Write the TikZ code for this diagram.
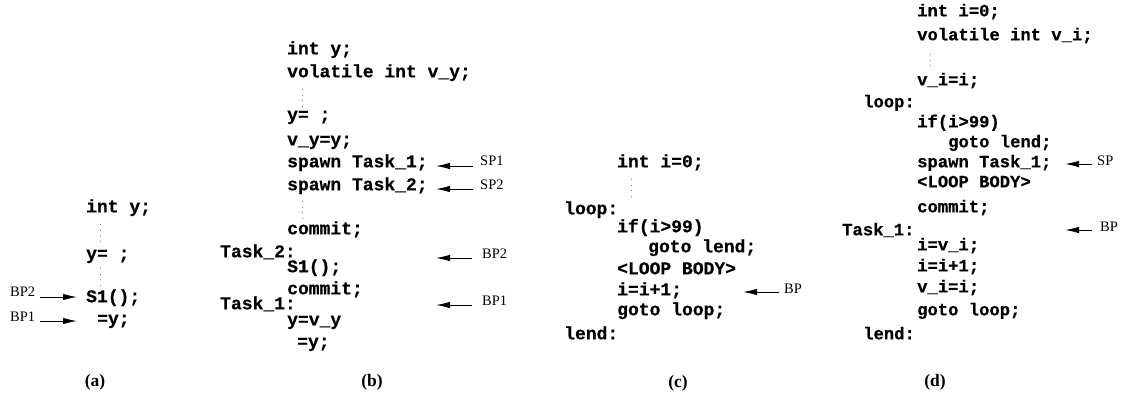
\documentclass[tikz,border=0pt]{standalone}
\usepackage{fontspec}
\setmainfont{Liberation Serif}
\newfontfamily\codefam{Liberation Mono}[BoldFont={Liberation Mono Bold},BoldFeatures={FakeBold=0.5}]
\usetikzlibrary{arrows.meta}
\newcommand{\cfa}{\fontsize{18}{22}\selectfont\codefam\bfseries}
\newcommand{\cfd}{\fontsize{17.2}{21}\selectfont\codefam\bfseries}
\begin{document}
\begin{tikzpicture}[x=1pt,y=-1pt,
  code/.style={font=\cfa, inner sep=0pt, anchor=mid west},
  coded/.style={font=\cfd, inner sep=0pt, anchor=mid west},
  lbl/.style={font=\fontsize{14.5}{16}\selectfont, inner sep=0pt, anchor=mid west},
  captxt/.style={font=\fontsize{17.5}{19}\selectfont\bfseries, inner sep=0pt},
  arr/.style={line width=1pt, -{Latex[length=14pt,width=6.5pt]}},
  vdotsline/.style={line width=0.9pt, black!50, dash pattern=on 0.9pt off 4.6pt}]
\useasboundingbox (0,0) rectangle (1130,397);

% ---------- (a)
\node[code] (a1) at (86,210) {int y;};
\node[code] (a2) at (86,257) {y= ;};
\node[code] (a3) at (86,300) {S1();};
\node[code] (a4) at (97,322) {=y;};
\draw[vdotsline] (100,224) -- (100,242);
\draw[vdotsline] (100,268) -- (100,286);
\node[lbl] (abp2) at (10,294) {BP2};
\node[lbl] (abp1) at (10,319) {BP1};
\coordinate (ta2) at (77,297);
\coordinate (ta1) at (77,321);
\draw[arr, shorten <=5pt] (ta2 -| abp2.east) -- (ta2);
\draw[arr, shorten <=5pt] (ta1 -| abp1.east) -- (ta1);
\node[captxt] (capa) at (95,382) {(a)};

% ---------- (b)
\node[code] (b1) at (287,52) {int y;};
\node[code] (b2) at (287,75) {volatile int v\_y;};
\node[code] (b3) at (287,118) {y= ;};
\node[code] (b4) at (287,143) {v\_y=y;};
\node[code] (b5) at (287,165) {spawn Task\_1;};
\node[code] (b6) at (287,188) {spawn Task\_2;};
\node[code] (b7) at (287,232) {commit;};
\node[code] (b8) at (220,255) {Task\_2:};
\node[code] (b9) at (287,270) {S1();};
\node[code] (b10) at (287,292) {commit;};
\node[code] (b11) at (220,307) {Task\_1:};
\node[code] (b12) at (287,323) {y=v\_y};
\node[code] (b13) at (297,345) {=y;};
\draw[vdotsline] (302,89) -- (302,107);
\draw[vdotsline] (302,201) -- (302,219);
\node[lbl] (bsp1) at (480,163) {SP1};
\node[lbl] (bsp2) at (480,187) {SP2};
\node[lbl] (bbp2) at (482,256) {BP2};
\node[lbl] (bbp1) at (482,303) {BP1};
\coordinate (tsp1) at (436,166);
\coordinate (tsp2) at (436,189);
\coordinate (tbp2) at (436,258);
\coordinate (tbp1) at (436,305);
\draw[arr, shorten <=7pt] (tsp1 -| bsp1.west) -- (tsp1);
\draw[arr, shorten <=7pt] (tsp2 -| bsp2.west) -- (tsp2);
\draw[arr, shorten <=10pt] (tbp2 -| bbp2.west) -- (tbp2);
\draw[arr, shorten <=10pt] (tbp1 -| bbp1.west) -- (tbp1);
\node[captxt] (capb) at (372,382) {(b)};

% ---------- (c)
\node[code] (c1) at (617,165) {int i=0;};
\node[code] (c2) at (564,212) {loop:};
\node[code] (c3) at (617,230) {if(i>99)};
\node[code] (c4) at (648,250) {goto lend;};
\node[code] (c5) at (617,272) {<LOOP BODY>};
\node[code] (c6) at (617,293) {i=i+1;};
\node[code] (c7) at (617,313) {goto loop;};
\node[code] (c8) at (564,337) {lend:};
\draw[vdotsline] (631,179) -- (631,197);
\node[lbl] (cbp) at (784,291) {BP};
\coordinate (tcbp) at (743,292);
\draw[arr, shorten <=5pt] (tcbp -| cbp.west) -- (tcbp);
\node[captxt] (capc) at (678,383) {(c)};

% ---------- (d)
\node[coded] (d1) at (917,14) {int i=0;};
\node[coded] (d2) at (917,38) {volatile int v\_i;};
\node[coded] (d3) at (917,83) {v\_i=i;};
\node[coded] (d4) at (863,105) {loop:};
\node[coded] (d5) at (917,125) {if(i>99)};
\node[coded] (d6) at (948,145) {goto lend;};
\node[coded] (d7) at (917,165) {spawn Task\_1;};
\node[coded] (d8) at (917,185) {<LOOP BODY>};
\node[coded] (d9) at (917,210) {commit;};
\node[coded] (d10) at (842,233) {Task\_1:};
\node[coded] (d11) at (917,248) {i=v\_i;};
\node[coded] (d12) at (917,269) {i=i+1;};
\node[coded] (d13) at (917,290) {v\_i=i;};
\node[coded] (d14) at (917,313) {goto loop;};
\node[coded] (d15) at (863,337) {lend:};
\draw[vdotsline] (930,54) -- (930,70);
\node[lbl] (dsp) at (1097,163) {SP};
\node[lbl] (dbp) at (1100,229) {BP};
\coordinate (tdsp) at (1065,164);
\coordinate (tdbp) at (1065,230);
\draw[arr, shorten <=5pt] (tdsp -| dsp.west) -- (tdsp);
\draw[arr, shorten <=8pt] (tdbp -| dbp.west) -- (tdbp);
\node[captxt] (capd) at (935,382) {(d)};
\end{tikzpicture}
\end{document}
